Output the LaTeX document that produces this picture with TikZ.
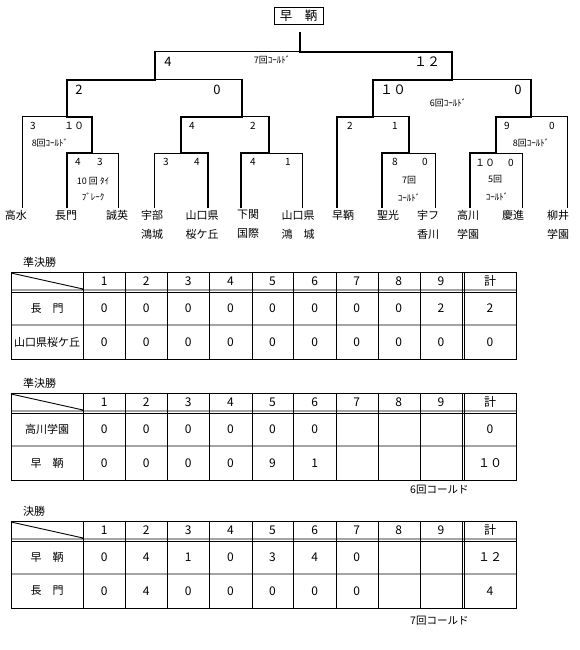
\documentclass[tikz,border=0pt]{standalone}
\usepackage{fontspec}
\setmainfont{Noto Sans CJK JP}

\tikzset{
  win/.style={line width=2.4pt, line cap=rect},
  lose/.style={line width=1pt, line cap=rect},
  grid/.style={line width=0.9pt},
  team/.style={anchor=north, inner sep=0pt, align=center, font=\fontsize{11}{19}\selectfont},
  bigscore/.style={inner sep=0pt, font=\fontsize{13}{13}\selectfont},
  score/.style={inner sep=0pt, font=\fontsize{10}{10}\selectfont},
  note/.style={inner sep=0pt, font=\fontsize{9}{10}\selectfont},
  cell/.style={inner sep=0pt, font=\fontsize{12}{12}\selectfont},
  tabletitle/.style={anchor=west, inner sep=0pt, font=\fontsize{11}{11}\selectfont},
}

% empty line score: header row, inning numbers
\newcommand{\scoregrid}[1]{%
  \draw[grid] (11,0) rectangle (516,87);
  \draw[grid] (11,18) -- (516,18) (11,20.5) -- (516,20.5) (11,53) -- (516,53)
    (11,1) -- (83,17);
  \foreach \x in {83,125,167,209,252,293,336,378,420,462,464.5}
    \draw[grid] (\x,0) -- (\x,87);
  \foreach \i in {1,...,9}
    \node[cell] (#1-h\i) at (62+42.1*\i,9) {\i};
  \node[cell] (#1-hsum) at (490,9) {計};
}
% one team: prefix, row centre, name, innings, total
\newcommand{\scorerow}[5]{%
  \node[cell,font=\fontsize{11}{11}\selectfont] (#1-name) at (47,#2) {#3};
  \foreach \s [count=\i] in {#4}
    \node[cell] (#1-\i) at (62+42.1*\i,#2) {\s};
  \node[cell] (#1-sum) at (490,#2) {#5};
}

\begin{document}
\begin{tikzpicture}[x=1pt,y=-1pt]
  \useasboundingbox (0,0) rectangle (580,650);

  \node[draw,line width=0.9pt,minimum width=49pt,minimum height=17pt,inner sep=0pt,
        font=\fontsize{12.5}{13}\selectfont] (champ) at (298.5,15.5) {早　鞆};

  % teams
  \node[team] (takamizu) at (16,210) {高水};
  \node[team] (nagato) at (66,210) {長門};
  \node[team] (seiei) at (117,210) {誠英};
  \node[team] (ubekojo) at (152,210) {宇部\\鴻城};
  \node[team] (sakura) at (202,210) {山口県\\桜ケ丘};
  \node[team] (shimokan) at (248,210) {下関\\国際};
  \node[team] (kojo) at (298,210) {山口県\\鴻　城};
  \node[team] (hayatomo) at (343,210) {早鞆};
  \node[team] (seiko) at (388,210) {聖光};
  \node[team] (ufu) at (428,210) {宇フ\\香川};
  \node[team] (takagawa) at (468,210) {高川\\学園};
  \node[team] (keishin) at (513,210) {慶進};
  \node[team] (yanai) at (558,210) {柳井\\学園};

  \coordinate (f-takamizu) at (22,207);
  \coordinate (f-nagato) at (67,207);
  \coordinate (f-seiei) at (118,207);
  \coordinate (f-ubekojo) at (154,207);
  \coordinate (f-sakura) at (208,207);
  \coordinate (f-shimokan) at (241,207);
  \coordinate (f-kojo) at (302,207);
  \coordinate (f-hayatomo) at (337,207);
  \coordinate (f-seiko) at (382,207);
  \coordinate (f-ufu) at (435,207);
  \coordinate (f-takagawa) at (470,207);
  \coordinate (f-keishin) at (522,207);
  \coordinate (f-yanai) at (567,207);

  % games
  \coordinate (r1) at (92,153);
  \coordinate (r2) at (181,153);
  \coordinate (r3) at (269,153);
  \coordinate (r4) at (409,153);
  \coordinate (r5) at (496,153);
  \coordinate (q1) at (67,117);
  \coordinate (q2) at (242,117);
  \coordinate (q3) at (373,117);
  \coordinate (q4) at (531,117);
  \coordinate (s1) at (155,80);
  \coordinate (s2) at (452,80);
  \coordinate (fin) at (300,52);
  \coordinate (top) at (300,33);

  \draw[lose] (f-takamizu) |- (q1);
  \draw[lose] (f-seiei) |- (r1);
  \draw[lose] (f-ubekojo) |- (r2);
  \draw[lose] (f-kojo) |- (r3);
  \draw[lose] (f-ufu) |- (r4);
  \draw[lose] (f-keishin) |- (r5);
  \draw[lose] (f-yanai) |- (q4);
  \draw[lose] (r3 |- q2) -- (q2);
  \draw[lose] (r4 |- q3) -- (q3);
  \draw[lose] (q2 |- s1) -- (s1);
  \draw[lose] (q4 |- s2) -- (s2);
  \draw[lose] (s1 |- fin) -- (fin);

  \draw[win] (f-nagato) |- (r1) |- (q1) |- (s1) -- (s1 |- fin);
  \draw[win] (f-sakura) |- (r2) |- (q2) -- (q2 |- s1);
  \draw[win] (f-shimokan) |- (r3) -- (r3 |- q2);
  \draw[win] (f-hayatomo) |- (q3) |- (s2) |- (fin) -- (top);
  \draw[win] (f-seiko) |- (r4) -- (r4 |- q3);
  \draw[win] (f-takagawa) |- (r5) |- (q4) -- (q4 |- s2);

  % scores
  \node[bigscore] (fin-l) at (168,62) {4};
  \node[bigscore] (fin-r) at (427,62) {１２};
  \node[note] (fin-n) at (272,60) {7回ｺｰﾙﾄﾞ};
  \node[bigscore] (s1-l) at (79,90) {2};
  \node[bigscore] (s1-r) at (217,90) {0};
  \node[bigscore] (s2-l) at (393,90) {１０};
  \node[bigscore] (s2-r) at (518,90) {0};
  \node[note] (s2-n) at (448,103) {6回ｺｰﾙﾄﾞ};
  \node[score] (q1-l) at (33,126) {3};
  \node[score] (q1-r) at (74,126) {１０};
  \node[note] (q1-n) at (50,143) {8回ｺｰﾙﾄﾞ};
  \node[score] (q2-l) at (192,126) {4};
  \node[score] (q2-r) at (253,126) {2};
  \node[score] (q3-l) at (350,126) {2};
  \node[score] (q3-r) at (395,126) {1};
  \node[score] (q4-l) at (507,126) {9};
  \node[score] (q4-r) at (552,126) {0};
  \node[note] (q4-n) at (531,143) {8回ｺｰﾙﾄﾞ};
  \node[score] (r1-l) at (78,162) {4};
  \node[score] (r1-r) at (100,162) {3};
  \node[note] (r1-n) at (93,181) {10 回 ﾀｲ};
  \node[note] (r1-m) at (93,197) {ﾌﾞﾚｰｸ};
  \node[score] (r2-l) at (166,162) {3};
  \node[score] (r2-r) at (197,162) {4};
  \node[score] (r3-l) at (253,162) {4};
  \node[score] (r3-r) at (288,162) {1};
  \node[score] (r4-l) at (395,162) {8};
  \node[score] (r4-r) at (425,162) {0};
  \node[note] (r4-n) at (409,180) {7回};
  \node[note] (r4-m) at (409,198) {ｺｰﾙﾄﾞ};
  \node[score] (r5-l) at (485,163) {１０};
  \node[score] (r5-r) at (511,163) {0};
  \node[note] (r5-n) at (495,179) {5回};
  \node[note] (r5-m) at (497,197) {ｺｰﾙﾄﾞ};

  % line scores
  \begin{scope}[shift={(0,272)}]
    \node[tabletitle] (sf1) at (23,-10) {準決勝};
    \scoregrid{sf1}
    \scorerow{sf1a}{36.5}{長　門}{0,0,0,0,0,0,0,0,2}{2}
    \scorerow{sf1b}{70}{山口県桜ケ丘}{0,0,0,0,0,0,0,0,0}{0}
  \end{scope}
  \begin{scope}[shift={(0,393)}]
    \node[tabletitle] (sf2) at (23,-10) {準決勝};
    \scoregrid{sf2}
    \scorerow{sf2a}{36.5}{高川学園}{0,0,0,0,0,0}{0}
    \scorerow{sf2b}{70}{早　鞆}{0,0,0,0,9,1}{１０}
    \node[tabletitle,font=\fontsize{10.5}{10}\selectfont] (sf2-note) at (410,97) {6回コールド};
  \end{scope}
  \begin{scope}[shift={(0,521)}]
    \node[tabletitle] (fi) at (23,-10) {決勝};
    \scoregrid{fi}
    \scorerow{fia}{36.5}{早　鞆}{0,4,1,0,3,4,0}{１２}
    \scorerow{fib}{70}{長　門}{0,4,0,0,0,0,0}{4}
    \node[tabletitle,font=\fontsize{10.5}{10}\selectfont] (fi-note) at (410,100) {7回コールド};
  \end{scope}
\end{tikzpicture}
\end{document}
